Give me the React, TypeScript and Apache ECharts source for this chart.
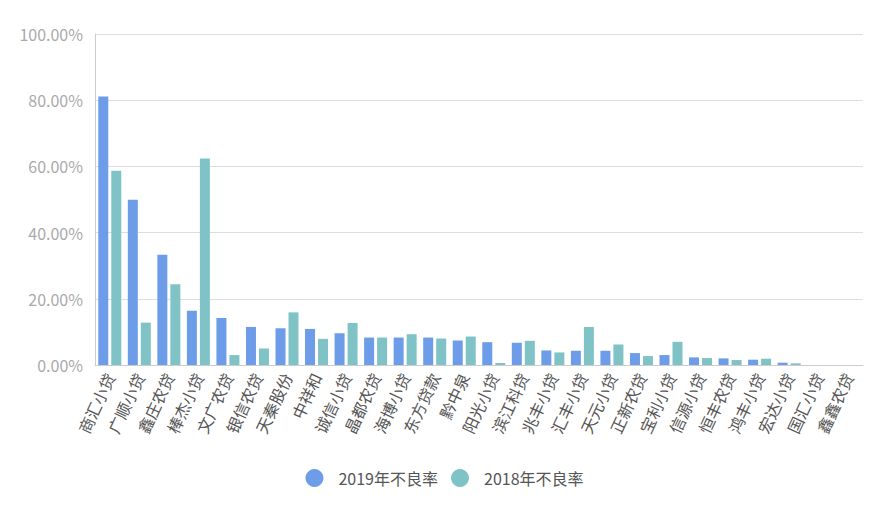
import React, { useEffect, useRef } from 'react';
import * as echarts from 'echarts';

const categories = [
    '商汇小贷', '广顺小贷', '鑫庄农贷', '棒杰小贷', '文广农贷', '银信农贷', '天秦股份',
    '中祥和', '诚信小贷', '晶都农贷', '海博小贷', '东方贷款', '黔中泉', '阳光小贷',
    '滨江科贷', '兆丰小贷', '汇丰小贷', '天元小贷', '正新农贷', '宝利小贷', '信源小贷',
    '恒丰农贷', '鸿丰小贷', '宏达小贷', '国汇小贷', '鑫鑫农贷'
];

const rate2019 = [
    81.1, 49.9, 33.3, 16.4, 14.2, 11.5, 11.1, 10.9, 9.6, 8.3, 8.3, 8.3, 7.4,
    6.9, 6.7, 4.4, 4.3, 4.3, 3.6, 3.0, 2.3, 2.0, 1.6, 0.7, 0, 0
];

const rate2018 = [
    58.7, 12.8, 24.4, 62.4, 3.0, 5.0, 15.9, 7.9, 12.7, 8.3, 9.3, 8.0, 8.6,
    0.6, 7.3, 3.8, 11.5, 6.2, 2.7, 7.0, 2.1, 1.5, 1.9, 0.5, 0, 0
];

const seriesNames = ['2019年不良率', '2018年不良率'];

export default function App() {
    const chartRef = useRef<HTMLDivElement>(null);

    useEffect(() => {
        if (!chartRef.current) return;
        const chart = echarts.init(chartRef.current, undefined, { renderer: 'svg' });

        const font = '"Noto Sans CJK SC", "Noto Sans", sans-serif';

        chart.setOption({
            animation: false,
            textStyle: { fontFamily: font },
            grid: { left: 87, right: 18, top: 26, bottom: 141, containLabel: false },
            legend: {
                data: seriesNames,
                left: 'center',
                top: 456,
                icon: 'circle',
                itemWidth: 18,
                itemHeight: 18,
                itemGap: 13,
                textStyle: { fontSize: 16, color: '#555', padding: [0, 0, 0, 10], fontFamily: font }
            },
            xAxis: {
                type: 'category',
                data: categories,
                axisLine: { lineStyle: { color: '#ccc' } },
                axisTick: { inside: true, length: 6, lineStyle: { color: '#ccc' } },
                axisLabel: {
                    interval: 0,
                    rotate: 65,
                    fontSize: 16,
                    color: '#555',
                    margin: 9,
                    fontFamily: font
                }
            },
            yAxis: {
                type: 'value',
                min: 0,
                max: 100,
                interval: 20,
                axisLine: { show: true, lineStyle: { color: '#ccc' } },
                axisTick: { show: false },
                splitLine: { lineStyle: { color: '#ddd' } },
                axisLabel: {
                    formatter: (v: number) => v.toFixed(2) + '%',
                    fontSize: 16,
                    color: '#aaa',
                    margin: 12,
                    fontFamily: font
                }
            },
            series: [
                {
                    name: seriesNames[0],
                    type: 'bar',
                    data: rate2019,
                    barWidth: 10,
                    barGap: '30%',
                    itemStyle: { color: '#6d9de8' }
                },
                {
                    name: seriesNames[1],
                    type: 'bar',
                    data: rate2018,
                    barWidth: 10,
                    barGap: '30%',
                    itemStyle: { color: '#7fc3c7' }
                }
            ]
        });

        const handleResize = () => chart.resize();
        window.addEventListener('resize', handleResize);
        return () => {
            window.removeEventListener('resize', handleResize);
            chart.dispose();
        };
    }, []);

    return <div ref={chartRef} style={{ width: 873, height: 498 }} />;
}
